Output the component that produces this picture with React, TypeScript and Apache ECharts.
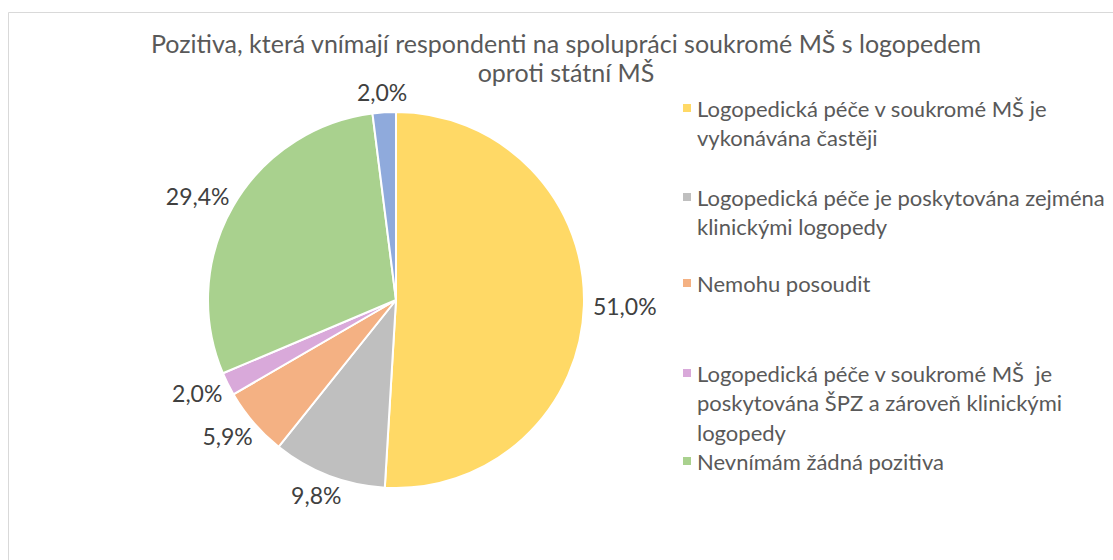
import React, { useEffect, useRef } from "react";
import * as echarts from "echarts";

const titleLines = [
  "Pozitiva, která vnímají respondenti na spolupráci soukromé MŠ s logopedem",
  "oproti státní MŠ",
];

const categories = [
  "Logopedická péče v soukromé MŠ je vykonávána častěji",
  "Logopedická péče je poskytována zejména klinickými logopedy",
  "Nemohu posoudit",
  "Logopedická péče v soukromé MŠ  je poskytována ŠPZ a zároveň klinickými logopedy",
  "Nevnímám žádná pozitiva",
  "Jiné",
];
const legendLines = [
  ["Logopedická péče v soukromé MŠ je", "vykonávána častěji"],
  ["Logopedická péče je poskytována zejména", "klinickými logopedy"],
  ["Nemohu posoudit"],
  ["Logopedická péče v soukromé MŠ  je", "poskytována ŠPZ a zároveň klinickými", "logopedy"],
  ["Nevnímám žádná pozitiva"],
];
const values = [51.0, 9.8, 5.9, 2.0, 29.4, 2.0];
const colors = ["#FFD966", "#BFBFBF", "#F4B183", "#D9A9DA", "#A9D18E", "#8FAADC"];
const legendIconCenters = [108, 197, 283, 373, 461];
const titleCenters = [43, 72];

const FONT = "Lato, 'Open Sans', sans-serif";
const LH = 29.5;
const LABEL_GAP = 9;

export default function App() {
  const ref = useRef<HTMLDivElement>(null);
  useEffect(() => {
    if (!ref.current) return;
    const chart = echarts.init(ref.current, null, { renderer: "svg" });
    const legends = legendLines.map((lines, i) => {
      const n = lines.length;
      const padded = Array(n - 1).fill(" ").concat(lines);
      return {
        data: [categories[i]],
        orient: "vertical",
        left: 681,
        top: legendIconCenters[i] - ((2 * n - 1) * LH) / 2,
        padding: 0,
        itemWidth: 10,
        itemHeight: 10,
        icon: "rect",
        selectedMode: false,
        formatter: () => padded.join("\n"),
        textStyle: {
          fontFamily: FONT,
          fontSize: 22,
          lineHeight: LH,
          color: "#595959",
        },
      };
    });
    const titles = titleLines.map((t, i) => ({
      text: t,
      left: 566,
      top: titleCenters[i] - 14.5,
      padding: 0,
      textAlign: "center",
      textStyle: {
        fontFamily: FONT,
        fontSize: 25,
        fontWeight: "normal",
        color: "#595959",
        lineHeight: 29,
      },
    }));
    chart.setOption({
      animation: false,
      backgroundColor: "#ffffff",
      title: titles,
      legend: legends,
      graphic: [
        {
          type: "rect",
          shape: { x: 8.5, y: 12.5, width: 1120, height: 560 },
          style: { fill: "none", stroke: "#D9D9D9", lineWidth: 1 },
          silent: true,
          z: -1,
        },
      ],
      series: [
        {
          type: "pie",
          center: [396, 300],
          radius: 188,
          startAngle: 90,
          clockwise: true,
          avoidLabelOverlap: false,
          color: colors,
          itemStyle: { borderColor: "#ffffff", borderWidth: 2 },
          data: categories.map((c, i) => ({ name: c, value: values[i] })),
          label: {
            show: true,
            position: "outside",
            fontFamily: FONT,
            fontSize: 23,
            color: "#404040",
            formatter: (p: any) => p.value.toFixed(1).replace(".", ",") + "%",
          },
          labelLine: { show: false, length: 20, length2: 0 },
          labelLayout: (p: any) => {
            const pts = p.labelLinePoints;
            const r = p.labelRect;
            if (!pts || !r) return {};
            const ux0 = pts[1][0] - pts[0][0];
            const uy0 = pts[1][1] - pts[0][1];
            const len = Math.hypot(ux0, uy0) || 1;
            const ux = ux0 / len;
            const uy = uy0 / len;
            return {
              x: pts[0][0] + ux * (LABEL_GAP + r.width / 2),
              y: pts[0][1] + uy * (LABEL_GAP + r.height / 2),
              align: "center",
              verticalAlign: "middle",
            };
          },
          emphasis: { disabled: true },
        },
      ],
    });
    return () => chart.dispose();
  }, []);
  return (
    <div
      ref={ref}
      style={{ position: "fixed", left: 0, top: 0, width: 1113, height: 560 }}
    />
  );
}
